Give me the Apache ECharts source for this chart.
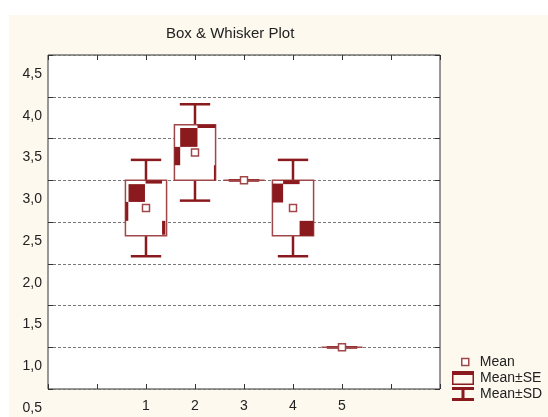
<!DOCTYPE html>
<html>
<head>
<meta charset="utf-8">
<script src="https://cdn.jsdelivr.net/npm/echarts@6/dist/echarts.min.js"></script>
<style>
  html, body { margin: 0; padding: 0; background: #fff; }
  #main { position: absolute; left: 9px; top: 15px; width: 539px; height: 402px; background: #fdf9ee; }
</style>
</head>
<body>
<div id="main"></div>
<script>
// group positions on the x axis and their statistics
var groupPos = [1, 2, 3, 4, 5]
var means = [2.667, 3.333, 3.0, 2.667, 1.0]
var seVals = [0.333, 0.333, 0, 0.333, 0]
var sdVals = [0.577, 0.577, 0, 0.577, 0]
var xTickLabels = ['1', '2', '3', '4', '5']
var yTicks = [0.5, 1.0, 1.5, 2.0, 2.5, 3.0, 3.5, 4.0, 4.5]

var DARK = '#8a1a1d'
var EDGE = '#a0474a'
var FONT = 'Liberation Sans, Arial, sans-serif'

// dark patches Statistica paints inside each box (fractions of the box)
var boxPatches = [
  [[0.075, 0.07, 0.475, 0.39], [0.49, 0, 0.89, 0.06], [0, 0.39, 0.07, 0.73], [0.89, 0.73, 0.97, 0.98]],
  [[0.14, 0.06, 0.56, 0.4], [0.56, 0, 1, 0.06], [0, 0.4, 0.14, 0.73], [0.96, 0.73, 1, 1]],
  [],
  [[0, 0.06, 0.26, 0.4], [0.26, 0, 0.66, 0.07], [0.66, 0.73, 1, 1]],
  []
]

var boxData = groupPos.map(function (x, i) { return [x, means[i] - seVals[i], means[i] + seVals[i]] })
var whiskerData = groupPos.map(function (x, i) { return [x, means[i] - sdVals[i], means[i] + sdVals[i]] })
var meanData = groupPos.map(function (x, i) { return [x, means[i]] })

function renderBox(params, api) {
  var x = api.value(0)
  var pLo = api.coord([x, api.value(1)])
  var pHi = api.coord([x, api.value(2)])
  var w = api.size([1, 0])[0] * 0.84
  var left = pLo[0] - w / 2
  var top = pHi[1]
  var h = pLo[1] - pHi[1]
  var children = [{
    type: 'rect',
    shape: { x: left, y: top, width: w, height: h },
    style: { fill: '#fff', stroke: EDGE, lineWidth: 1.5 }
  }]
  if (h > 2) {
    (boxPatches[params.dataIndex] || []).forEach(function (p) {
      children.push({
        type: 'rect',
        shape: { x: left + p[0] * w, y: top + p[1] * h, width: (p[2] - p[0]) * w, height: (p[3] - p[1]) * h },
        style: { fill: DARK }
      })
    })
  }
  return { type: 'group', children: children }
}

function renderWhisker(params, api) {
  var x = api.value(0)
  var pLo = api.coord([x, api.value(1)])
  var pHi = api.coord([x, api.value(2)])
  var half = api.size([1, 0])[0] * 0.31
  var style = { stroke: DARK, lineWidth: 2.5 }
  return {
    type: 'group',
    children: [
      { type: 'line', shape: { x1: pLo[0], y1: pLo[1], x2: pHi[0], y2: pHi[1] }, style: style },
      { type: 'line', shape: { x1: pLo[0] - half, y1: pLo[1], x2: pLo[0] + half, y2: pLo[1] }, style: style },
      { type: 'line', shape: { x1: pHi[0] - half, y1: pHi[1], x2: pHi[0] + half, y2: pHi[1] }, style: style }
    ]
  }
}

var chart = echarts.init(document.getElementById('main'))

var tickStyle = { show: true, inside: true, length: 5, lineStyle: { color: '#333', width: 1 } }
var noLine = { show: false, onZero: false }

var option = {
  animation: false,
  textStyle: { fontFamily: FONT },
  title: {
    text: 'Box & Whisker Plot',
    left: 152,
    top: 6,
    textStyle: { fontSize: 15, fontWeight: 'normal', color: '#222', fontFamily: FONT }
  },
  legend: [
    {
      data: [{ name: 'Mean', icon: 'rect', itemStyle: { color: '#fff', borderColor: EDGE, borderWidth: 1.5 } }],
      left: 452, top: 340, padding: 0, itemWidth: 7, itemHeight: 7, selectedMode: false,
      textStyle: { fontSize: 14, color: '#222', padding: [0, 0, 0, 6] }
    },
    {
      data: [{ name: 'Mean±SE', icon: 'path://M0,0H22V14H0Z M1.5,4V12.5H20.5V4Z', itemStyle: { color: DARK } }],
      left: 443, top: 356, padding: 0, itemWidth: 22, itemHeight: 14, selectedMode: false,
      textStyle: { fontSize: 14, color: '#222', padding: [0, 0, 0, 1] }
    },
    {
      data: [{ name: 'Mean±SD', icon: 'path://M0,0H22V3H12.5V11H22V14H0V11H9.5V3H0Z', itemStyle: { color: DARK } }],
      left: 443, top: 372, padding: 0, itemWidth: 22, itemHeight: 14, selectedMode: false,
      textStyle: { fontSize: 14, color: '#222', padding: [0, 0, 0, 1] }
    }
  ],
  grid: {
    show: true,
    left: 39,
    right: 108,
    top: 40,
    bottom: 28,
    containLabel: false,
    outerBoundsMode: 'none',
    backgroundColor: '#fff',
    borderColor: '#333',
    borderWidth: 1
  },
  xAxis: [
    {
      type: 'value',
      min: -1,
      max: 7,
      interval: 1,
      axisLine: noLine,
      axisTick: tickStyle,
      splitLine: { show: false },
      axisLabel: {
        margin: 10,
        fontSize: 14,
        color: '#222',
        formatter: function (v) {
          var i = groupPos.indexOf(v)
          return i >= 0 ? xTickLabels[i] : ''
        }
      }
    },
    {
      type: 'value',
      position: 'top',
      min: -1,
      max: 7,
      interval: 1,
      axisLine: noLine,
      axisTick: tickStyle,
      splitLine: { show: false },
      axisLabel: { show: false }
    }
  ],
  yAxis: [
    {
      type: 'value',
      position: 'left',
      min: yTicks[0],
      max: yTicks[yTicks.length - 1],
      interval: 0.5,
      axisLine: noLine,
      axisTick: tickStyle,
      splitLine: { show: true, lineStyle: { color: '#777', type: [3, 2], width: 1 } },
      axisLabel: {
        margin: 6,
        fontSize: 14,
        color: '#222',
        verticalAlign: 'top',
        lineHeight: 38,
        formatter: function (v) { return v.toFixed(1).replace('.', ',') }
      }
    },
    {
      type: 'value',
      position: 'right',
      min: yTicks[0],
      max: yTicks[yTicks.length - 1],
      interval: 0.5,
      axisLine: noLine,
      axisTick: tickStyle,
      splitLine: { show: false },
      axisLabel: { show: false }
    }
  ],
  series: [
    {
      name: 'Mean±SD',
      type: 'custom',
      renderItem: renderWhisker,
      encode: { x: 0, y: [1, 2] },
      itemStyle: { color: DARK },
      data: whiskerData,
      z: 2
    },
    {
      name: 'Mean±SE',
      type: 'custom',
      renderItem: renderBox,
      encode: { x: 0, y: [1, 2] },
      itemStyle: { color: DARK },
      data: boxData,
      z: 3
    },
    {
      name: 'Mean',
      type: 'scatter',
      symbol: 'rect',
      symbolSize: 7,
      itemStyle: { color: '#fff', borderColor: EDGE, borderWidth: 1.5, opacity: 1 },
      data: meanData,
      z: 4
    }
  ]
}

chart.setOption(option)
</script>
</body>
</html>
